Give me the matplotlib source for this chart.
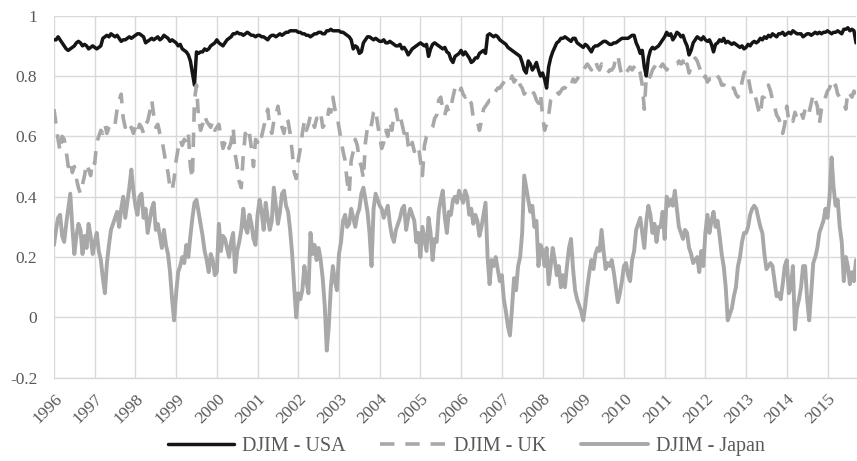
import numpy as np
import matplotlib
matplotlib.use("Agg")
import matplotlib.pyplot as plt

# ---- data (one value every 0.05 year from 1996.0) ----
start_year = 1996.0
step_year = 0.05

usa = [
0.92,0.92,0.93,0.92,0.91,0.90,0.89,0.885,0.89,0.895,0.90,0.91,0.915,0.91,0.90,0.905,0.90,0.89,0.895,0.90,
0.895,0.89,0.895,0.90,0.925,0.93,0.935,0.93,0.94,0.935,0.93,0.935,0.925,0.915,0.92,0.92,0.925,0.93,0.925,0.93,
0.935,0.94,0.94,0.935,0.93,0.91,0.915,0.92,0.925,0.92,0.925,0.93,0.92,0.925,0.935,0.93,0.925,0.915,0.92,0.915,
0.91,0.90,0.905,0.89,0.885,0.88,0.87,0.85,0.81,0.77,0.88,0.875,0.88,0.88,0.89,0.885,0.89,0.90,0.905,0.91,
0.92,0.91,0.905,0.90,0.91,0.92,0.925,0.93,0.94,0.94,0.945,0.94,0.94,0.935,0.94,0.945,0.94,0.935,0.935,0.93,
0.935,0.935,0.93,0.93,0.925,0.92,0.93,0.935,0.935,0.93,0.935,0.94,0.935,0.94,0.945,0.945,0.95,0.95,0.95,0.95,
0.945,0.945,0.94,0.94,0.935,0.935,0.93,0.935,0.94,0.94,0.945,0.945,0.94,0.94,0.95,0.95,0.955,0.95,0.95,0.95,
0.95,0.945,0.945,0.94,0.935,0.93,0.92,0.89,0.90,0.895,0.875,0.88,0.91,0.92,0.93,0.93,0.925,0.92,0.925,0.92,
0.915,0.915,0.92,0.91,0.91,0.915,0.91,0.905,0.90,0.90,0.905,0.89,0.895,0.885,0.87,0.88,0.89,0.895,0.90,0.905,
0.91,0.905,0.90,0.905,0.865,0.89,0.905,0.91,0.905,0.90,0.895,0.89,0.895,0.88,0.875,0.855,0.845,0.865,0.87,0.875,
0.885,0.87,0.88,0.87,0.86,0.845,0.85,0.86,0.86,0.875,0.88,0.885,0.875,0.935,0.94,0.935,0.93,0.935,0.93,0.92,
0.915,0.91,0.905,0.895,0.89,0.885,0.88,0.875,0.87,0.865,0.845,0.82,0.81,0.85,0.84,0.82,0.83,0.845,0.82,0.80,
0.81,0.79,0.76,0.83,0.86,0.88,0.895,0.91,0.915,0.925,0.925,0.93,0.925,0.92,0.915,0.925,0.925,0.91,0.905,0.90,
0.895,0.905,0.90,0.89,0.88,0.895,0.90,0.90,0.905,0.91,0.915,0.915,0.91,0.905,0.905,0.91,0.91,0.915,0.92,0.925,
0.925,0.925,0.925,0.93,0.935,0.935,0.91,0.895,0.875,0.885,0.83,0.80,0.86,0.885,0.895,0.89,0.895,0.90,0.91,0.92,
0.93,0.945,0.935,0.94,0.92,0.93,0.945,0.94,0.93,0.935,0.915,0.90,0.87,0.885,0.91,0.92,0.93,0.925,0.92,0.93,
0.92,0.915,0.92,0.905,0.88,0.905,0.91,0.92,0.915,0.925,0.91,0.915,0.91,0.905,0.91,0.905,0.90,0.895,0.90,0.89,
0.895,0.905,0.90,0.91,0.915,0.91,0.915,0.925,0.92,0.93,0.925,0.935,0.93,0.94,0.935,0.93,0.94,0.94,0.945,0.935,
0.94,0.945,0.94,0.95,0.945,0.94,0.94,0.94,0.93,0.935,0.94,0.94,0.935,0.94,0.945,0.94,0.945,0.94,0.945,0.945,
0.95,0.945,0.94,0.945,0.945,0.95,0.945,0.94,0.955,0.955,0.96,0.95,0.955,0.95,0.91]

uk = [
0.69,0.64,0.59,0.55,0.60,0.59,0.55,0.50,0.52,0.48,0.50,0.46,0.43,0.41,0.44,0.47,0.51,0.49,0.47,0.52,
0.51,0.58,0.60,0.62,0.61,0.64,0.61,0.63,0.64,0.65,0.64,0.69,0.72,0.74,0.66,0.63,0.64,0.62,0.63,0.61,
0.63,0.61,0.64,0.63,0.61,0.64,0.65,0.68,0.72,0.67,0.63,0.64,0.61,0.59,0.55,0.51,0.48,0.43,0.42,0.46,
0.52,0.56,0.59,0.57,0.59,0.58,0.61,0.50,0.46,0.72,0.77,0.66,0.62,0.64,0.67,0.65,0.64,0.63,0.65,0.62,
0.63,0.64,0.60,0.56,0.58,0.59,0.56,0.58,0.63,0.54,0.50,0.45,0.43,0.54,0.61,0.59,0.61,0.56,0.50,0.59,
0.58,0.61,0.60,0.63,0.66,0.69,0.63,0.61,0.65,0.67,0.70,0.66,0.63,0.61,0.66,0.65,0.61,0.55,0.48,0.46,
0.52,0.56,0.61,0.65,0.62,0.64,0.67,0.65,0.63,0.66,0.66,0.68,0.63,0.64,0.64,0.69,0.68,0.73,0.69,0.67,
0.63,0.59,0.55,0.52,0.45,0.41,0.52,0.55,0.59,0.57,0.52,0.50,0.46,0.58,0.63,0.62,0.64,0.68,0.69,0.64,
0.60,0.56,0.58,0.62,0.60,0.65,0.62,0.67,0.69,0.65,0.67,0.64,0.61,0.63,0.57,0.55,0.58,0.55,0.56,0.57,
0.52,0.47,0.57,0.60,0.61,0.62,0.63,0.66,0.67,0.72,0.73,0.69,0.67,0.70,0.68,0.70,0.73,0.76,0.75,0.74,
0.76,0.74,0.73,0.74,0.72,0.71,0.66,0.65,0.65,0.62,0.65,0.69,0.70,0.71,0.72,0.72,0.74,0.75,0.76,0.76,
0.77,0.78,0.79,0.79,0.78,0.80,0.78,0.79,0.80,0.77,0.76,0.74,0.75,0.74,0.74,0.75,0.74,0.72,0.71,0.74,
0.67,0.62,0.64,0.67,0.72,0.73,0.74,0.75,0.74,0.75,0.76,0.76,0.77,0.76,0.77,0.79,0.78,0.79,0.80,0.80,
0.82,0.83,0.84,0.83,0.82,0.83,0.85,0.83,0.82,0.84,0.83,0.82,0.81,0.82,0.82,0.83,0.86,0.87,0.83,0.80,
0.80,0.81,0.82,0.83,0.82,0.83,0.84,0.83,0.81,0.77,0.69,0.80,0.79,0.80,0.82,0.83,0.84,0.82,0.83,0.84,
0.83,0.82,0.83,0.83,0.84,0.84,0.84,0.85,0.84,0.85,0.82,0.84,0.81,0.83,0.85,0.86,0.85,0.83,0.81,0.79,
0.80,0.78,0.79,0.79,0.80,0.81,0.80,0.79,0.77,0.77,0.78,0.77,0.76,0.76,0.76,0.74,0.73,0.75,0.78,0.81,
0.82,0.80,0.76,0.73,0.74,0.72,0.69,0.67,0.73,0.73,0.75,0.77,0.75,0.72,0.70,0.67,0.66,0.64,0.61,0.64,
0.70,0.65,0.66,0.65,0.68,0.66,0.66,0.68,0.66,0.69,0.70,0.68,0.71,0.74,0.72,0.70,0.64,0.69,0.71,0.73,
0.75,0.76,0.78,0.76,0.77,0.74,0.73,0.72,0.71,0.69,0.75,0.74,0.73,0.75,0.74]

japan = [
0.24,0.29,0.33,0.34,0.27,0.25,0.31,0.36,0.41,0.30,0.21,0.27,0.31,0.29,0.21,0.27,0.23,0.31,0.27,0.21,
0.25,0.28,0.22,0.19,0.13,0.08,0.18,0.24,0.29,0.31,0.33,0.35,0.30,0.36,0.40,0.33,0.38,0.43,0.49,0.42,
0.37,0.34,0.40,0.41,0.33,0.36,0.28,0.32,0.36,0.38,0.29,0.31,0.27,0.23,0.29,0.24,0.21,0.15,0.06,-0.01,
0.08,0.15,0.17,0.20,0.18,0.24,0.20,0.27,0.33,0.38,0.39,0.35,0.31,0.27,0.22,0.19,0.15,0.21,0.19,0.14,
0.15,0.31,0.22,0.27,0.26,0.23,0.20,0.25,0.28,0.15,0.22,0.25,0.29,0.36,0.30,0.28,0.34,0.31,0.26,0.24,
0.34,0.39,0.35,0.29,0.38,0.33,0.29,0.32,0.43,0.37,0.31,0.35,0.41,0.42,0.37,0.35,0.29,0.21,0.10,0.00,
0.08,0.06,0.09,0.17,0.12,0.08,0.28,0.21,0.24,0.19,0.23,0.19,0.13,0.04,-0.11,-0.03,0.10,0.17,0.12,0.09,
0.21,0.25,0.32,0.34,0.30,0.31,0.36,0.33,0.30,0.34,0.36,0.41,0.43,0.39,0.35,0.28,0.17,0.36,0.41,0.39,
0.37,0.36,0.33,0.35,0.37,0.31,0.27,0.25,0.29,0.31,0.33,0.36,0.37,0.29,0.33,0.36,0.34,0.32,0.25,0.28,
0.20,0.30,0.26,0.22,0.33,0.28,0.19,0.26,0.25,0.35,0.39,0.42,0.33,0.28,0.35,0.34,0.39,0.40,0.38,0.42,
0.40,0.38,0.42,0.40,0.34,0.36,0.31,0.34,0.32,0.27,0.30,0.34,0.38,0.20,0.11,0.19,0.17,0.20,0.16,0.12,
0.14,0.06,0.02,-0.03,-0.06,0.03,0.13,0.09,0.17,0.20,0.28,0.47,0.43,0.39,0.35,0.37,0.30,0.32,0.17,0.24,
0.22,0.17,0.23,0.11,0.17,0.23,0.19,0.14,0.17,0.10,0.14,0.10,0.17,0.23,0.26,0.16,0.09,0.06,0.04,0.02,
-0.01,0.04,0.10,0.15,0.19,0.16,0.21,0.23,0.22,0.29,0.22,0.16,0.18,0.17,0.19,0.15,0.10,0.05,0.08,0.12,
0.17,0.18,0.14,0.12,0.19,0.22,0.29,0.31,0.33,0.28,0.23,0.32,0.37,0.34,0.28,0.31,0.25,0.30,0.30,0.35,
0.26,0.40,0.37,0.39,0.37,0.42,0.36,0.30,0.28,0.26,0.29,0.28,0.23,0.21,0.18,0.19,0.20,0.15,0.22,0.17,
0.28,0.34,0.28,0.32,0.35,0.30,0.32,0.27,0.21,0.17,0.10,-0.01,0.01,0.03,0.07,0.10,0.17,0.20,0.25,0.28,
0.28,0.30,0.34,0.36,0.37,0.36,0.33,0.30,0.28,0.21,0.16,0.17,0.18,0.17,0.12,0.07,0.08,0.06,0.11,0.17,
0.19,0.08,0.10,0.17,-0.04,0.03,0.06,0.10,0.17,0.17,0.06,-0.01,0.08,0.18,0.20,0.23,0.28,0.30,0.32,0.36,
0.33,0.40,0.53,0.43,0.37,0.39,0.30,0.25,0.12,0.20,0.17,0.11,0.15,0.12,0.19]

series_names = ["DJIM - USA", "DJIM - UK", "DJIM - Japan"]
year_ticks = list(range(1996, 2016))
year_labels = [str(y) for y in year_ticks]
y_ticks = [1.0, 0.8, 0.6, 0.4, 0.2, 0.0, -0.2]
y_labels = ["1", "0.8", "0.6", "0.4", "0.2", "0", "-0.2"]

t = start_year + step_year * np.arange(len(usa))

# ---- figure ----
W, H = 857, 461
fig = plt.figure(figsize=(W / 100, H / 100), dpi=100)
plt.rcParams["font.family"] = ["Liberation Serif", "DejaVu Serif"]
text_col = "#595959"
grid_col = "#d9d9d9"

left, right, top, bottom = 54, 856, 15.7, 377.7
ax = fig.add_axes([left / W, 1 - bottom / H, (right - left) / W, (bottom - top) / H])

ax.plot(t, usa, color="#151515", lw=2.5, label=series_names[0],
        solid_capstyle="round", solid_joinstyle="round")
ax.plot(t, uk, color="#a8a8a8", lw=2.6, label=series_names[1], dashes=(4, 3))
ax.plot(t, japan, color="#a8a8a8", lw=2.8, label=series_names[2],
        solid_capstyle="round", solid_joinstyle="round")

ax.set_xlim(t[0], t[-1])
ax.set_ylim(-0.2, 1.0)
ax.set_xticks(year_ticks)
ax.set_xticklabels(year_labels, rotation=45, ha="right", va="top",
                   rotation_mode="anchor", fontsize=12.5, color=text_col)
ax.set_yticks(y_ticks)
ax.set_yticklabels(y_labels, fontsize=12.5, color=text_col)
ax.tick_params(axis="both", length=0)
ax.tick_params(axis="y", pad=12)
ax.tick_params(axis="x", pad=9.5)

for s in ["top", "right", "left"]:
    ax.spines[s].set_visible(False)
ax.spines["bottom"].set_color(grid_col)
ax.spines["bottom"].set_linewidth(1.0)
ax.grid(True, color=grid_col, lw=1.0)
ax.set_axisbelow(True)

fig.legend(loc="center", bbox_to_anchor=(466 / W, 1 - 446 / H), ncol=3,
           frameon=False, fontsize=14.5, labelcolor=text_col,
           handlelength=3.3, handletextpad=0.4, columnspacing=1.7)

fig.savefig("out.png", dpi=100)
